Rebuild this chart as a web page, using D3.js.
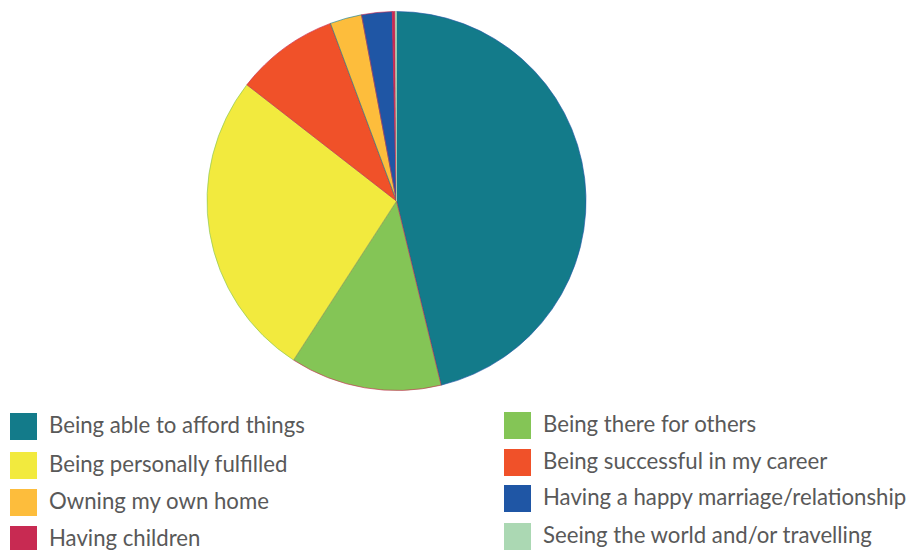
<!DOCTYPE html>
<html><head><meta charset="utf-8">
<script src="https://cdn.jsdelivr.net/npm/d3@7"></script>
<style>body{margin:0;background:#fff}svg{display:block}</style>
</head><body>
<svg id="chart" width="914" height="550"></svg>
<script>
const categories = ["Being able to afford things","Being there for others","Being personally fulfilled","Being successful in my career","Owning my own home","Having a happy marriage/relationship","Having children","Seeing the world and/or travelling"];
const values = [46.1, 12.9, 26.3, 8.8, 2.7, 2.6, 0.25, 0.1];
const colors = ["#137b8a","#84c556","#f2ea3e","#f05129","#fdbd3c","#1f56a5","#c82a52","#abd8b3"];
const strokes = ["#1f56a5","#c82a52","#84c556","#c82a52","#137b8a","#c82a52","#c82a52","#abd8b3"];
const legendLeft = [0,2,4,6];
const legendRight = [1,3,5,7];

const svg = d3.select("#chart");
const cx = 396.5, cy = 201, r = 189.5;
const pie = d3.pie().sort(null).value(d => d)(values);
const arc = d3.arc().innerRadius(0).outerRadius(r);
const g = svg.append("g").attr("transform", `translate(${cx},${cy})`);
g.selectAll("path").data(pie).join("path")
  .attr("d", arc)
  .attr("fill", (d,i) => colors[i])
  .attr("stroke", (d,i) => strokes[i])
  .attr("stroke-width", 0.8)
  .attr("stroke-opacity", 0.8);

function legend(idx, x, ys) {
  idx.forEach((ci, k) => {
    svg.append("rect").attr("x", x).attr("y", ys[k]).attr("width", 27).attr("height", 27).attr("fill", colors[ci]);
    svg.append("text").attr("x", x + 39).attr("y", ys[k] + 19.5)
      .attr("font-family", "Lato, 'Open Sans', sans-serif").attr("font-size", 22.2)
      .attr("fill", "#595959").text(categories[ci]);
  });
}
legend(legendLeft, 10, [413, 452, 489, 526]);
legend(legendRight, 504, [412, 449, 485, 523]);
</script>
</body></html>
